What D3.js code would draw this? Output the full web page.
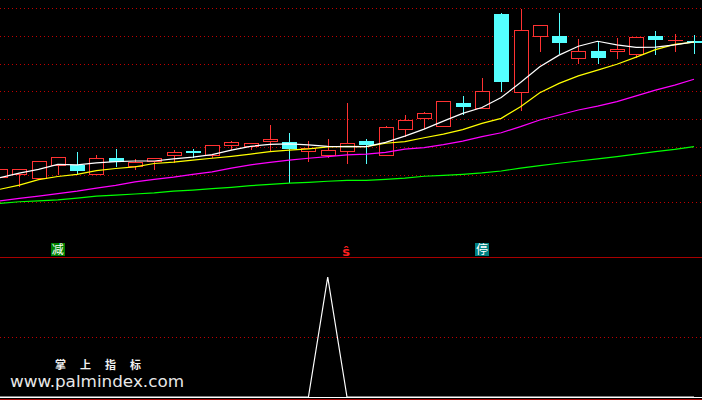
<!DOCTYPE html>
<html><head><meta charset="utf-8">
<script src="https://cdn.jsdelivr.net/npm/d3@7"></script>
<style>html,body{margin:0;padding:0;background:#000;overflow:hidden}</style>
</head><body>
<svg id="c" width="702" height="400"></svg>
<script>
// ---- data ----
const opens  = [10.92,11.03,10.89,11.36,11.35,11.01,11.60,11.32,11.50,11.72,11.84,11.70,12.08,12.04,12.21,12.18,11.85,11.72,11.86,12.21,11.72,12.66,13.05,12.76,13.58,13.39,16.79,13.97,15.99,16.00,15.20,15.46,15.47,15.34,16.00,15.85,15.81];
const highs  = [11.20,11.19,11.48,11.63,11.81,11.71,11.92,11.57,11.59,11.89,11.92,12.06,12.21,12.13,12.79,12.49,12.20,12.28,13.58,12.28,12.75,13.15,13.26,13.65,13.84,14.48,16.83,16.97,16.39,16.83,15.89,15.81,15.93,15.95,16.18,16.07,16.04];
const lows   = [10.92,10.60,10.89,11.02,11.06,11.01,11.32,11.21,11.21,11.45,11.62,11.65,11.94,11.91,11.89,10.74,11.50,11.63,11.43,11.43,11.69,12.40,12.69,12.76,13.19,13.39,14.03,13.34,15.47,15.38,15.02,15.04,15.20,15.25,15.34,15.47,15.40];
const closes = [11.20,11.19,11.48,11.63,11.18,11.59,11.49,11.45,11.59,11.80,11.83,12.06,12.16,12.13,12.28,11.97,11.97,11.88,12.13,12.10,12.72,12.97,13.21,13.65,13.47,14.02,14.39,16.21,16.39,15.79,15.46,15.23,15.53,15.95,15.90,15.85,15.80];

const ma5  = [10.89,11.05,11.19,11.37,11.35,11.42,11.47,11.49,11.49,11.57,11.63,11.72,11.88,12.02,12.09,12.11,12.07,12.02,12.01,12.01,12.16,12.39,12.64,12.93,13.21,13.42,13.78,14.32,14.89,15.31,15.63,15.81,15.68,15.59,15.60,15.68,15.79];
const ma10 = [10.47,10.62,10.82,10.93,11.01,11.14,11.22,11.28,11.40,11.45,11.52,11.59,11.66,11.74,11.83,11.88,11.93,12.00,12.02,12.01,12.13,12.19,12.33,12.46,12.62,12.85,13.03,13.45,13.95,14.29,14.56,14.77,14.98,15.24,15.51,15.70,15.78];
const ma20 = [10.05,10.14,10.22,10.31,10.40,10.51,10.61,10.74,10.83,10.91,11.01,11.10,11.23,11.35,11.44,11.52,11.59,11.65,11.71,11.74,11.80,11.92,11.97,12.08,12.21,12.37,12.51,12.73,12.97,13.15,13.33,13.47,13.63,13.84,14.05,14.23,14.44];
const ma60 = [9.96,10.02,10.05,10.09,10.15,10.22,10.26,10.30,10.34,10.40,10.44,10.49,10.54,10.60,10.65,10.69,10.72,10.76,10.79,10.79,10.83,10.87,10.94,10.97,11.01,11.06,11.13,11.23,11.32,11.41,11.49,11.57,11.65,11.74,11.83,11.91,12.01];

const gridPrices = [10,11,12,13,14,15,16,17];

const subValues = [0,0,0,0,0,0,0,0,0,0,0,0,0,0,0,0,0,100,0,0,0,0,0,0,0,0,0,0,0,0,0,0,0,0,0,0,0];
const subGrid = [50];

const signalIdx  = [3, 18, 25];
const signalText = ["减", "ŝ", "停"];

const watermark1 = "掌 上 指 标";
const watermark2 = "www.palmindex.com";

// ---- styles ----
const RED = "#ff3232", CYAN = "#54ffff";
const GRID = "#c00000", FRAME = "#a80000";
const lineColors = ["#ffffff", "#ffff00", "#ff00ff", "#00ff00"];
const sigStyle = [
  {bg: "#008000", fg: "#ffffff"},
  {bg: null, fg: "#ff2020"},
  {bg: "#008080", fg: "#ffffff"}
];

// ---- scales ----
const W = 702, H = 400;
const svg = d3.select("#c");
svg.append("rect").attr("width", W).attr("height", H).attr("fill", "#000");

const idx = d3.range(opens.length);
const x = d3.scalePoint().domain(idx).range([0, 694]);
const y = d3.scaleLinear().domain([10, 17]).range([202.3, 8.3]);
const ySub = d3.scaleLinear().domain([0, 100]).range([397, 277]);

// grid lines (main)
svg.append("g").selectAll("line").data(gridPrices).join("line")
  .attr("x1", 0).attr("x2", W)
  .attr("y1", d => Math.round(y(d)) + 0.5).attr("y2", d => Math.round(y(d)) + 0.5)
  .attr("stroke", GRID).attr("stroke-width", 1).attr("stroke-dasharray", "1,3");

// separator + sub grid + bottom frame
svg.append("line").attr("x1", 0).attr("x2", W).attr("y1", 257.5).attr("y2", 257.5)
  .attr("stroke", FRAME).attr("stroke-width", 1);
svg.append("g").selectAll("line").data(subGrid).join("line")
  .attr("x1", 0).attr("x2", W)
  .attr("y1", d => Math.round(ySub(d)) + 0.5).attr("y2", d => Math.round(ySub(d)) + 0.5)
  .attr("stroke", GRID).attr("stroke-width", 1).attr("stroke-dasharray", "1,3");
svg.append("line").attr("x1", 0).attr("x2", W).attr("y1", 399.5).attr("y2", 399.5)
  .attr("stroke", FRAME).attr("stroke-width", 1);

// candles
const cg = svg.append("g");
idx.forEach(i => {
  const cx = Math.round(x(i));
  const up = closes[i] >= opens[i];
  const col = up ? RED : CYAN;
  const yTop = Math.round(y(Math.max(opens[i], closes[i])));
  const yBot = Math.round(y(Math.min(opens[i], closes[i])));
  // wick
  cg.append("line")
    .attr("x1", cx + 0.5).attr("x2", cx + 0.5)
    .attr("y1", Math.round(y(highs[i]))).attr("y2", Math.round(y(lows[i])) + 1)
    .attr("stroke", col).attr("stroke-width", 1);
  if (yBot - yTop < 1) {
    cg.append("line")
      .attr("x1", cx - 7).attr("x2", cx + 8)
      .attr("y1", yTop + 0.5).attr("y2", yTop + 0.5)
      .attr("stroke", col).attr("stroke-width", 1);
  } else if (up) {
    cg.append("rect")
      .attr("x", cx - 7 + 0.5).attr("y", yTop + 0.5)
      .attr("width", 14).attr("height", yBot - yTop)
      .attr("fill", "#000").attr("stroke", col).attr("stroke-width", 1);
  } else {
    cg.append("rect")
      .attr("x", cx - 7).attr("y", yTop)
      .attr("width", 15).attr("height", yBot - yTop + 1)
      .attr("fill", col);
  }
});

// moving averages
const lineGen = d3.line().x((d, i) => x(i)).y(d => y(d));
[ma60, ma20, ma10, ma5].forEach((arr, k) => {
  svg.append("path").datum(arr)
    .attr("d", lineGen)
    .attr("fill", "none")
    .attr("stroke", lineColors[3 - k])
    .attr("stroke-width", 1.2);
});

// signal labels
signalIdx.forEach((si, k) => {
  const cx = x(si);
  const st = sigStyle[k];
  if (st.bg) {
    svg.append("rect").attr("x", Math.round(cx) - 7).attr("y", 243)
      .attr("width", 14).attr("height", 13).attr("fill", st.bg);
    svg.append("text").attr("x", cx).attr("y", 254)
      .attr("text-anchor", "middle")
      .attr("font-family", "'Noto Sans CJK SC', sans-serif")
      .attr("font-size", 12).attr("fill", st.fg)
      .text(signalText[k]);
  } else {
    svg.append("text").attr("x", cx - 1).attr("y", 256)
      .attr("text-anchor", "middle")
      .attr("font-family", "'DejaVu Sans', sans-serif")
      .attr("font-weight", "bold")
      .attr("font-size", 13).attr("fill", st.fg)
      .text(signalText[k]);
  }
});

// sub indicator
svg.append("line").attr("x1", 0).attr("x2", W)
  .attr("y1", ySub(0) + 0.5).attr("y2", ySub(0) + 0.5)
  .attr("stroke", "#ffffff").attr("stroke-width", 1);
const subLine = d3.line().x((d, i) => x(i)).y(d => ySub(d));
svg.append("path").datum(subValues)
  .attr("d", subLine).attr("fill", "none")
  .attr("stroke", "#ffffff").attr("stroke-width", 1.2);

// watermark
svg.append("text").attr("x", 55).attr("y", 369)
  .attr("font-family", "'Noto Sans CJK SC', sans-serif")
  .attr("font-weight", "bold").attr("font-size", 11)
  .attr("fill", "#f0f0f0").attr("xml:space", "preserve")
  .attr("textLength", 86).attr("lengthAdjust", "spacing")
  .text(watermark1);
svg.append("text").attr("x", 10).attr("y", 387)
  .attr("font-family", "'DejaVu Sans', sans-serif")
  .attr("font-size", 16)
  .attr("fill", "#e8e8e8")
  .attr("textLength", 174).attr("lengthAdjust", "spacingAndGlyphs")
  .text(watermark2);
</script>
</body></html>
